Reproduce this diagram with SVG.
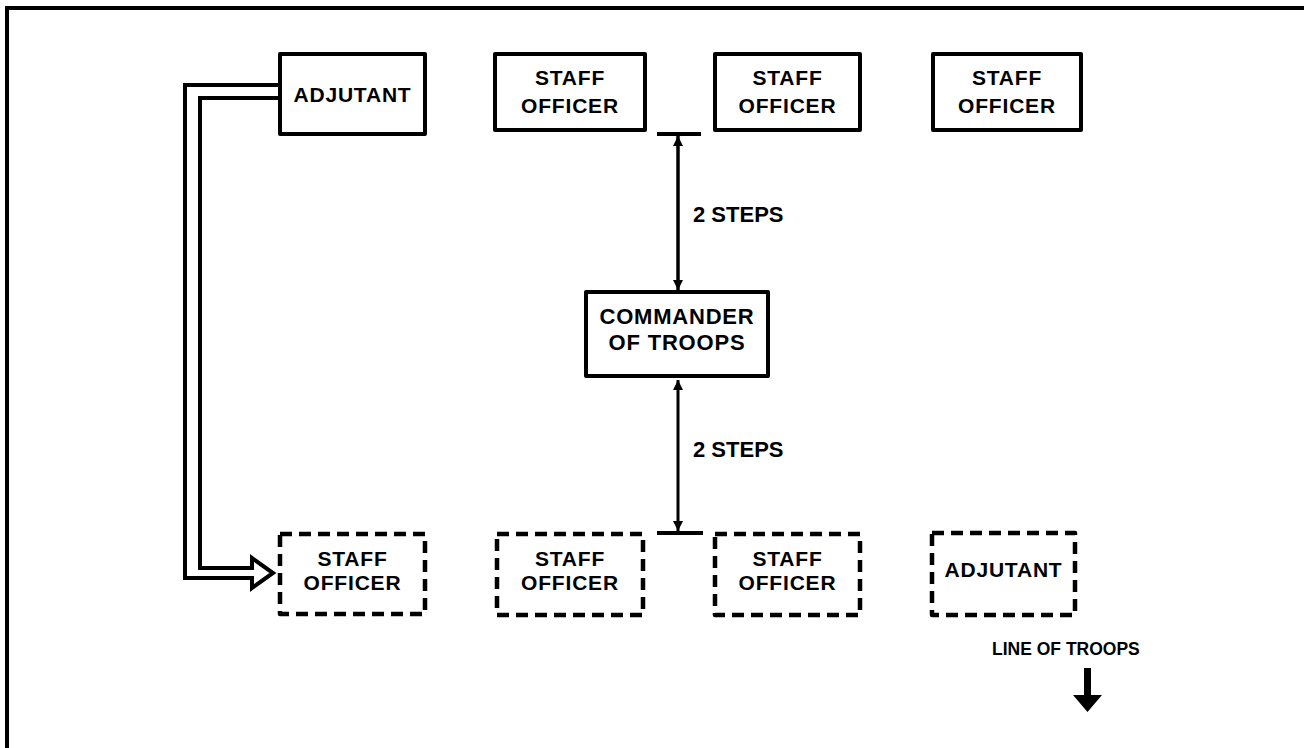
<svg xmlns="http://www.w3.org/2000/svg" width="1304" height="748" viewBox="0 0 1304 748">
<defs>
<style>
.box{fill:#fff;stroke:#000;stroke-width:4;stroke-linejoin:round}
.dash{fill:#fff;stroke:#000;stroke-width:4.5;stroke-dasharray:12 7;stroke-linejoin:round}
.t{font-family:"Liberation Sans",Arial,sans-serif;font-weight:bold;font-size:21px;letter-spacing:0.8px;fill:#000;text-anchor:middle}
.lbl{font-family:"Liberation Sans",Arial,sans-serif;font-weight:bold;font-size:22px;fill:#000}
.ln{stroke:#000;stroke-width:4;fill:none}
</style>
<marker id="ah" viewBox="0 0 10 10" refX="10" refY="5" markerWidth="14" markerHeight="10" markerUnits="userSpaceOnUse" orient="auto-start-reverse">
<path d="M0,0 L10,5 L0,10 Z" fill="#000"/>
</marker>
</defs>
<rect width="1304" height="748" fill="#fff"/>
<path d="M7,748 L7,8 L1304,8" stroke="#000" stroke-width="4" fill="none"/>

<g id="connectors">
<path class="ln" d="M280,85 L185,85 L185,578 L252,578 L252,588 L273,573 L252,558 L252,568 L200,568 L200,98 L280,98"/>
<line class="ln" x1="657" y1="134" x2="701" y2="134"/>
<line x1="678" y1="136" x2="678" y2="290" stroke="#000" stroke-width="3.5" marker-start="url(#ah)" marker-end="url(#ah)"/>
<line class="ln" x1="657" y1="533" x2="703" y2="533"/>
<line x1="678" y1="380" x2="678" y2="531" stroke="#000" stroke-width="3" marker-start="url(#ah)" marker-end="url(#ah)"/>
<path d="M1084,668 L1091,668 L1091,695 L1102,695 L1087.5,712 L1073,695 L1084,695 Z" fill="#000"/>
</g>

<text class="lbl" x="693" y="222">2 STEPS</text>
<text class="lbl" x="693" y="457">2 STEPS</text>
<text class="lbl" x="992" y="655" style="font-size:17.5px">LINE OF TROOPS</text>

<g id="adjutant-top">
<rect class="box" x="280" y="54" width="145" height="80"/>
<text class="t" x="352.5" y="102">ADJUTANT</text>
</g>
<g id="staff-top-1">
<rect class="box" x="495" y="54" width="150" height="76"/>
<text class="t" x="570" y="85">STAFF</text>
<text class="t" x="570" y="113">OFFICER</text>
</g>
<g id="staff-top-2">
<rect class="box" x="715" y="54" width="145" height="76"/>
<text class="t" x="787.5" y="85">STAFF</text>
<text class="t" x="787.5" y="113">OFFICER</text>
</g>
<g id="staff-top-3">
<rect class="box" x="933" y="54" width="148" height="76"/>
<text class="t" x="1007" y="85">STAFF</text>
<text class="t" x="1007" y="113">OFFICER</text>
</g>
<g id="commander">
<rect class="box" x="586" y="292" width="182" height="84"/>
<text class="t" x="677" y="324" style="font-size:22px">COMMANDER</text>
<text class="t" x="677" y="350" style="font-size:22px">OF TROOPS</text>
</g>
<g id="staff-bottom-1">
<rect class="dash" x="280" y="534" width="145" height="80"/>
<text class="t" x="352.5" y="566">STAFF</text>
<text class="t" x="352.5" y="590">OFFICER</text>
</g>
<g id="staff-bottom-2">
<rect class="dash" x="497" y="534" width="146" height="81"/>
<text class="t" x="570" y="566">STAFF</text>
<text class="t" x="570" y="590">OFFICER</text>
</g>
<g id="staff-bottom-3">
<rect class="dash" x="715" y="534" width="145" height="81"/>
<text class="t" x="787.5" y="566">STAFF</text>
<text class="t" x="787.5" y="590">OFFICER</text>
</g>
<g id="adjutant-bottom">
<rect class="dash" x="932" y="533" width="143" height="82"/>
<text class="t" x="1003.5" y="577">ADJUTANT</text>
</g>
</svg>
